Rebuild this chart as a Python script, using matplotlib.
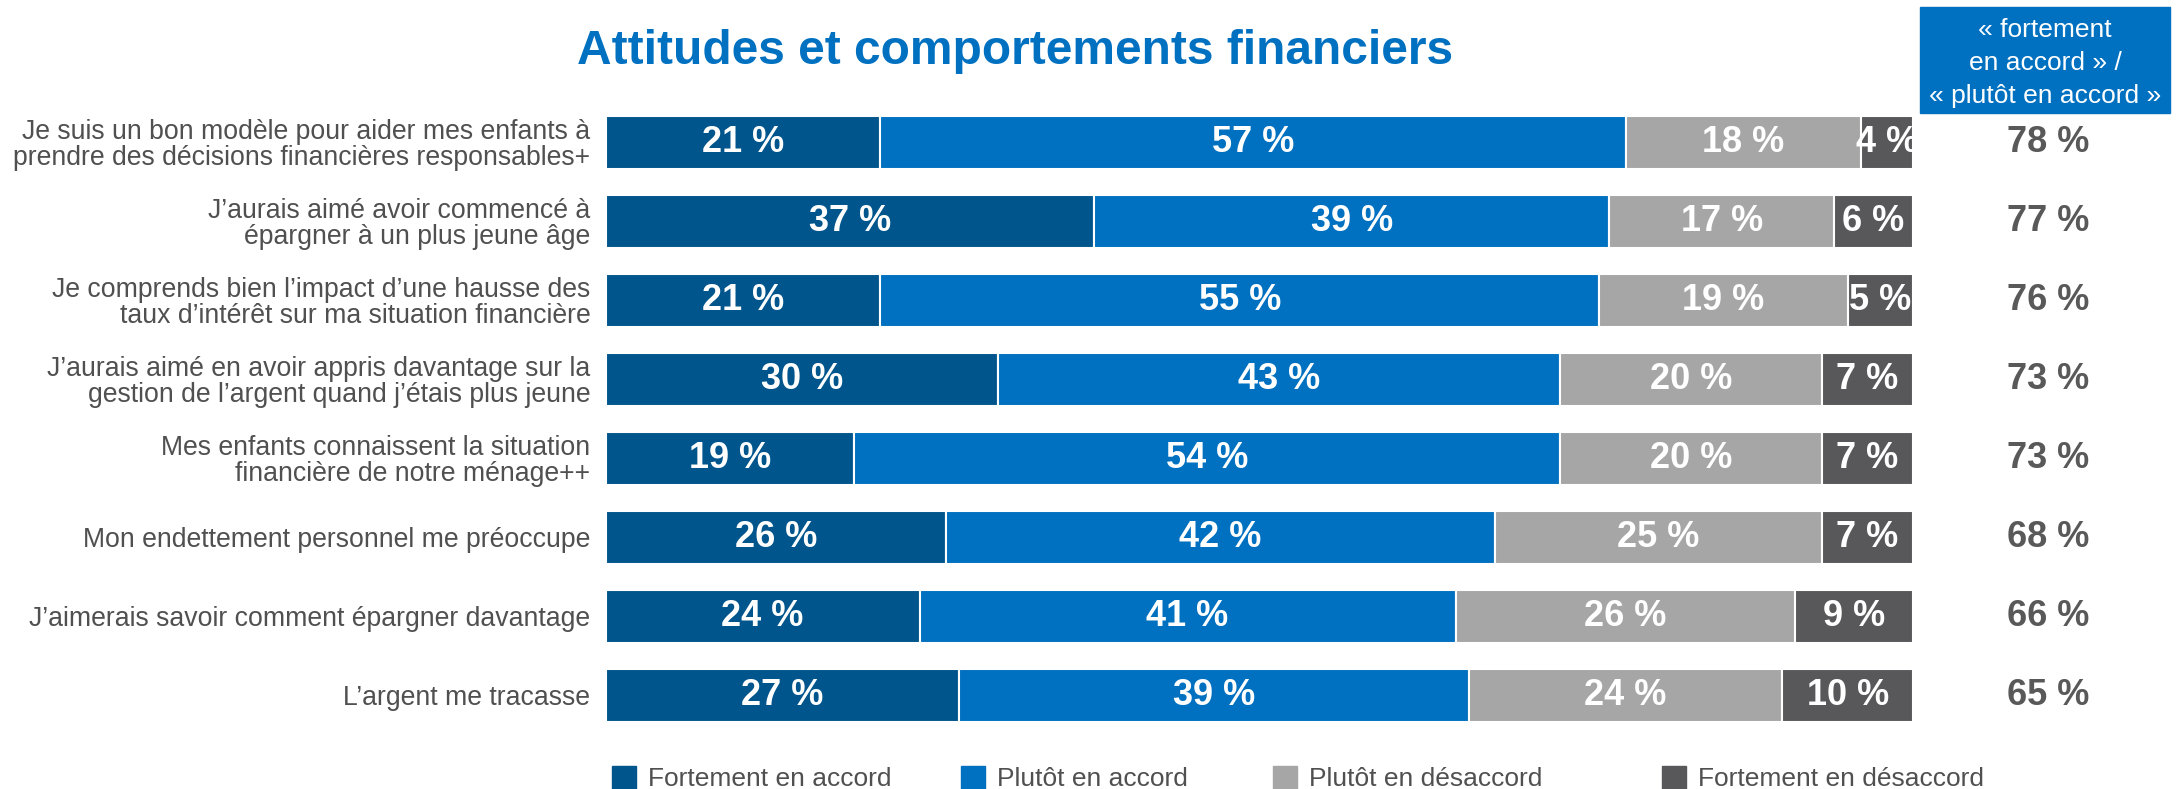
import numpy as np
import matplotlib.pyplot as plt
from matplotlib.patches import Rectangle

plt.rcParams['font.family'] = ['Liberation Sans', 'DejaVu Sans']

statements = [
    "Je suis un bon modèle pour aider mes enfants à\nprendre des décisions financières responsables+",
    "J’aurais aimé avoir commencé à\népargner à un plus jeune âge",
    "Je comprends bien l’impact d’une hausse des\ntaux d’intérêt sur ma situation financière",
    "J’aurais aimé en avoir appris davantage sur la\ngestion de l’argent quand j’étais plus jeune",
    "Mes enfants connaissent la situation\nfinancière de notre ménage++",
    "Mon endettement personnel me préoccupe",
    "J’aimerais savoir comment épargner davantage",
    "L’argent me tracasse",
]
fortement_accord = [21, 37, 21, 30, 19, 26, 24, 27]
plutot_accord = [57, 39, 55, 43, 54, 42, 41, 39]
plutot_desaccord = [18, 17, 19, 20, 20, 25, 26, 24]
fortement_desaccord = [4, 6, 5, 7, 7, 7, 9, 10]
total_accord = [78, 77, 76, 73, 73, 68, 66, 65]

categories = ["Fortement en accord", "Plutôt en accord", "Plutôt en désaccord", "Fortement en désaccord"]
colors = ["#00558C", "#0070C0", "#A6A6A6", "#58585A"]

data = np.array([fortement_accord, plutot_accord, plutot_desaccord, fortement_desaccord], dtype=float)
# bars all span the full width, so scale each row to 100
widths = data / data.sum(axis=0) * 100

fig = plt.figure(figsize=(21.79, 7.89), dpi=100)
ax = fig.add_axes([0.278, 0.069, 0.600, 0.801])

y = np.arange(len(statements))
left = np.zeros(len(statements))
for k in range(4):
    ax.barh(y, widths[k], left=left, height=0.67, color=colors[k],
            edgecolor='white', linewidth=1.5)
    for i in range(len(y)):
        ax.text(left[i] + widths[k][i] / 2, y[i], f"{int(data[k][i])} %",
                ha='center', va='center', color='white', fontsize=26,
                fontweight='bold', clip_on=True)
    left += widths[k]

for i in range(len(y)):
    ax.text(110.3, y[i], f"{total_accord[i]} %", ha='center', va='center',
            color='#595959', fontsize=26, fontweight='bold', clip_on=False)

ax.set_xlim(0, 100)
ax.set_ylim(len(y) - 0.5, -0.5)
ax.set_yticks(y)
ax.set_yticklabels(statements, fontsize=19.2, color='#505050', linespacing=1.0)
ax.tick_params(axis='y', length=0, pad=11)
ax.set_xticks([])
for s in ax.spines.values():
    s.set_visible(False)

fig.text(0.466, 0.935, "Attitudes et comportements financiers", ha='center', va='center',
         fontsize=34.5, fontweight='bold', color='#0070C0')

# header box
fig.patches.append(Rectangle((1920 / 2179, 1 - 113 / 789), 250 / 2179, 106 / 789,
                             transform=fig.transFigure, color='#0070C0'))
fig.text(2045 / 2179, 1 - 63 / 789, "« fortement\nen accord » /\n« plutôt en accord »",
         ha='center', va='center', fontsize=19, color='white', linespacing=1.47)

# legend
leg_x = [612, 961, 1273, 1662]
for k in range(4):
    fig.patches.append(Rectangle((leg_x[k] / 2179, 0), 24 / 2179, 23 / 789,
                                 transform=fig.transFigure, color=colors[k]))
    fig.text((leg_x[k] + 36) / 2179, 1 - 786 / 789, categories[k], ha='left', va='baseline',
             fontsize=19, color='#505050')

fig.savefig('out.png', dpi=100)
